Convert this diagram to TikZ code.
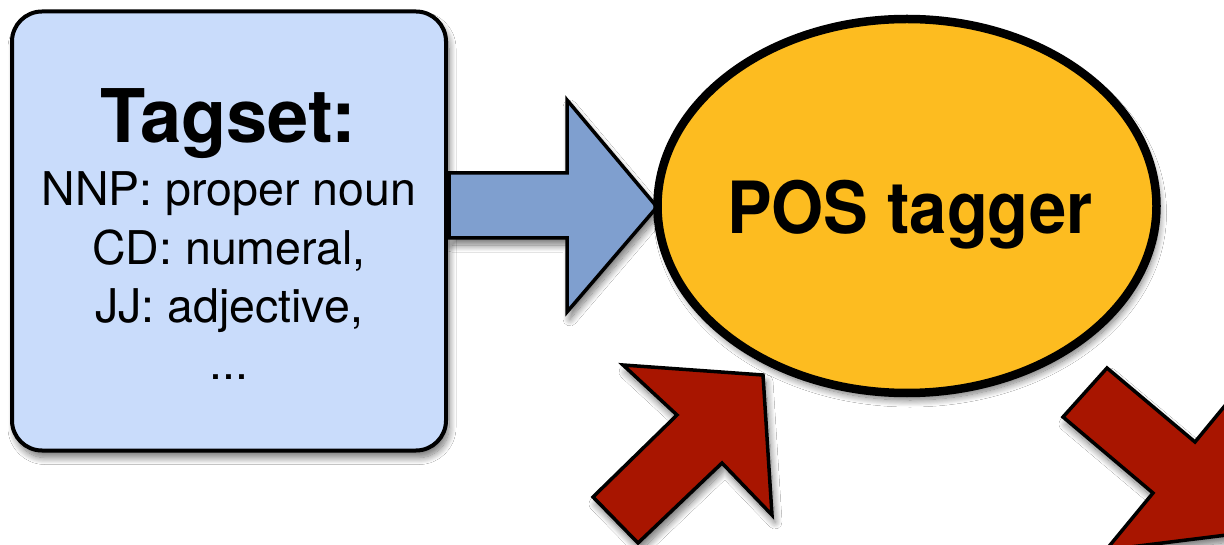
\documentclass[tikz,border=0pt]{standalone}
\usepackage{fontspec}
\setmainfont{TeX Gyre Heros}
\usetikzlibrary{shapes.geometric,shadows.blur}
\definecolor{boxblue}{HTML}{C9DCFB}
\definecolor{arrowblue}{HTML}{7F9FCF}
\definecolor{taggerorange}{HTML}{FDBC20}
\definecolor{arrowred}{HTML}{A81500}
\begin{document}
\begin{tikzpicture}[x=1pt,y=-1pt,
  myshadow/.style={blur shadow={shadow xshift=3pt, shadow yshift=-7pt, shadow blur radius=7pt, shadow blur steps=14, shadow opacity=55}},
  tagbox/.style={rectangle, rounded corners=30pt, draw=black, line width=4pt, fill=boxblue, minimum width=434pt, minimum height=439pt, inner sep=0pt, myshadow},
  tagger/.style={ellipse, draw=black, line width=8.5pt, fill=taggerorange, minimum width=499pt, minimum height=374pt, inner sep=0pt, myshadow},
  bigarrow/.style={draw=black, line width=3.5pt, line join=miter, myshadow},
  titletext/.style={anchor=base, inner sep=0pt, font=\fontsize{74}{80}\selectfont\bfseries},
  itemtext/.style={anchor=base, inner sep=0pt, font=\fontsize{46.5}{52}\selectfont},
  taggertext/.style={anchor=base, inner sep=0pt, font=\fontsize{72}{78}\selectfont\bfseries}
]
\useasboundingbox (0,0) rectangle (1224,545);
\clip (0,0) rectangle (1224,545);
\fill[white] (0,0) rectangle (1224,545);

% Tagset box
\node[tagbox] (tagset) at (229,231) {};
\node[titletext] (title) at (228,143) {Tagset:};
\node[itemtext] (nnp) at (229,206) {NNP: proper noun};
\node[itemtext] (cd) at (229,265) {CD: numeral,};
\node[itemtext] (jj) at (229,323) {JJ: adjective,};
\node[itemtext] (dots) at (229,380) {...};

% blue arrow
\path[bigarrow, fill=arrowblue] (449,173) -- (567,173) -- (567,100) -- (657,207) -- (567,312) -- (567,238) -- (449,238) -- cycle;

% red arrows
\path[bigarrow, fill=arrowred] (593,497) -- (677,415) -- (623,365) -- (763,375) -- (772,515) -- (722,463) -- (638,543) -- cycle;
\path[bigarrow, fill=arrowred] (1063,417) -- (1107,368) -- (1195,442) -- (1242,385) -- (1251,532) -- (1106,550) -- (1153,493) -- cycle;

% POS tagger ellipse
\node[tagger] (pos) at (907,206) {};
\node[taggertext] (postext) at (910,234) {\scalebox{0.93}[1]{POS tagger}};
\end{tikzpicture}
\end{document}
